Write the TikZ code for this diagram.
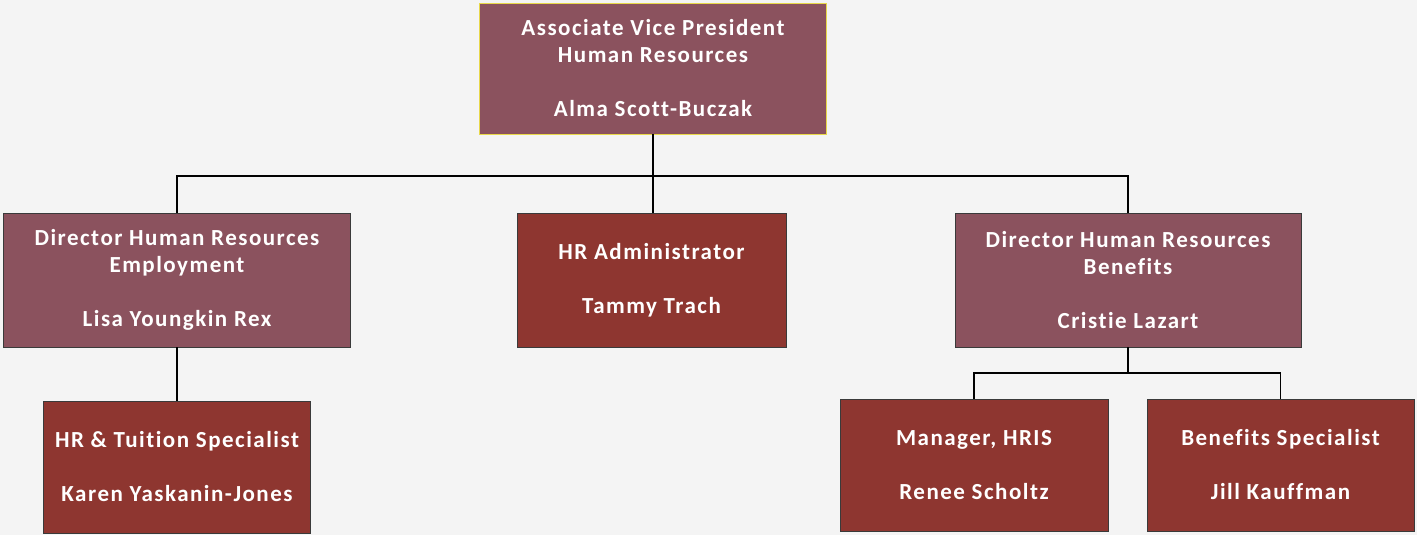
\documentclass[tikz,border=0pt]{standalone}
\usepackage{fontspec}
\setmainfont{Carlito}[LetterSpace=6.5,Ligatures=CommonOff]
\definecolor{mauve}{HTML}{8B525E}
\definecolor{brick}{HTML}{8E3630}
\definecolor{bg}{HTML}{F4F4F4}
\definecolor{edge}{HTML}{3A3A3A}
\definecolor{topedge}{HTML}{E8D84A}
\begin{document}
\begin{tikzpicture}[x=1pt,y=-1pt,
  box/.style={draw=edge,line width=0.8pt,text=white,align=center,inner sep=0pt,
    font=\fontsize{23}{27}\selectfont\bfseries},
  mbox/.style={box,fill=mauve},
  rbox/.style={box,fill=brick},
  link/.style={draw=black,line width=1.3pt}]
\fill[bg] (0,0) rectangle (1417,535);
\useasboundingbox (0,0) rectangle (1417,535);
\node[mbox,draw=topedge,minimum width=347pt,minimum height=131pt] (avp) at (653,68.5)
  {Associate Vice President\\Human Resources\\[27pt]Alma Scott-Buczak};
\node[mbox,minimum width=347pt,minimum height=134pt] (dre) at (177,280)
  {Director Human Resources\\Employment\\[27pt]Lisa Youngkin Rex};
\node[rbox,minimum width=269pt,minimum height=134pt] (hra) at (651.5,280)
  {HR Administrator\\[27pt]Tammy Trach};
\node[mbox,minimum width=346pt,minimum height=134pt] (drb) at (1128,280)
  {Director Human Resources\\Benefits\\[27pt]Cristie Lazart};
\node[rbox,minimum width=267pt,minimum height=132pt] (hrt) at (177,467)
  {HR \& Tuition Specialist\\[27pt]Karen Yaskanin-Jones};
\node[rbox,minimum width=268pt,minimum height=132pt] (mgr) at (974,465)
  {Manager, HRIS\\[27pt]Renee Scholtz};
\node[rbox,minimum width=267pt,minimum height=132pt] (ben) at (1280.5,465)
  {Benefits Specialist\\[27pt]Jill Kauffman};
\coordinate (bus1) at (653,176);
\coordinate (bus2) at (1128,373);
\draw[link] (avp.south) -- (bus1);
\draw[link] (dre.north) |- (bus1) -| (drb.north);
\draw[link] (bus1) -- (hra.north -| bus1);
\draw[link] (dre.south) -- (hrt.north);
\draw[link] (drb.south) -- (bus2);
\draw[link] (mgr.north) |- (bus2) -| (ben.north);
\end{tikzpicture}
\end{document}
